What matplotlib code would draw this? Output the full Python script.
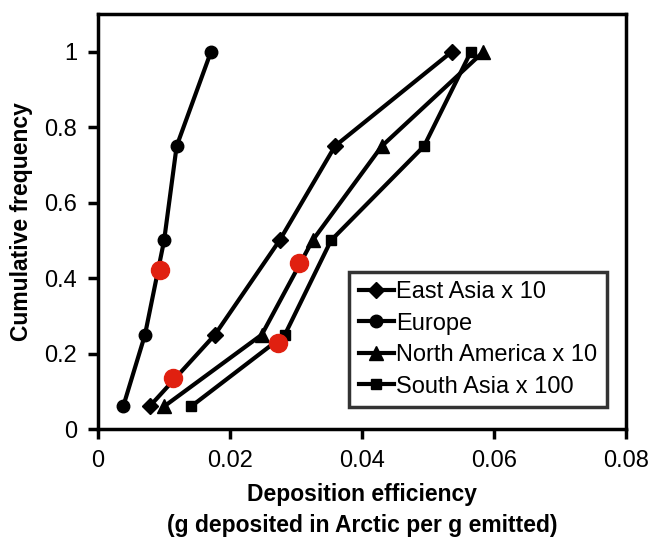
import matplotlib
matplotlib.use('Agg')
import matplotlib.pyplot as plt

plt.rcParams['font.family'] = ['Liberation Sans', 'DejaVu Sans']

# cumulative frequency levels
freq = [0.06, 0.25, 0.5, 0.75, 1.0]

east_asia = [0.0078, 0.0177, 0.0275, 0.0359, 0.0536]
europe = [0.0038, 0.0071, 0.0100, 0.0119, 0.0171]
north_america = [0.0100, 0.0248, 0.0325, 0.0430, 0.0584]
south_asia = [0.0141, 0.0283, 0.0353, 0.0494, 0.0565]

# highlighted points (red)
red_x = [0.0093, 0.0114, 0.0305, 0.0272]
red_y = [0.422, 0.134, 0.441, 0.227]

fig = plt.figure(figsize=(6.5, 5.39), dpi=100)
ax = fig.add_axes([0.151, 0.204, 0.812, 0.770])

lw = 3
ax.plot(east_asia, freq, color='black', lw=lw, marker='D', ms=8, label='East Asia x 10')
ax.plot(europe, freq, color='black', lw=lw, marker='o', ms=9, label='Europe')
ax.plot(north_america, freq, color='black', lw=lw, marker='^', ms=10, label='North America x 10')
ax.plot(south_asia, freq, color='black', lw=lw, marker='s', ms=7, label='South Asia x 100')
ax.plot(red_x, red_y, linestyle='none', marker='o', ms=13, color='#e02010', zorder=5)

ax.set_xlim(0, 0.08)
ax.set_ylim(0, 1.1)
ax.set_xticks([0, 0.02, 0.04, 0.06, 0.08])
ax.set_xticklabels(['0', '0.02', '0.04', '0.06', '0.08'])
ax.set_yticks([0, 0.2, 0.4, 0.6, 0.8, 1.0])
ax.set_yticklabels(['0', '0.2', '0.4', '0.6', '0.8', '1'])
ax.tick_params(direction='out', length=7, width=2.5, labelsize=17, pad=8)

for s in ax.spines.values():
    s.set_linewidth(2.5)

ax.set_xlabel('Deposition efficiency\n(g deposited in Arctic per g emitted)',
              fontsize=16.5, fontweight='bold', linespacing=1.45, labelpad=8)
ax.set_ylabel('Cumulative frequency', fontsize=16.5, fontweight='bold', labelpad=8)

leg = ax.legend(loc='lower right', bbox_to_anchor=(0.964, 0.053), fontsize=17,
                frameon=True, fancybox=False, edgecolor='black', handlelength=1.5,
                handletextpad=0.1, borderpad=0.4, labelspacing=0.4, borderaxespad=0)
leg.get_frame().set_linewidth(2.5)

fig.savefig('out.png', dpi=100)
